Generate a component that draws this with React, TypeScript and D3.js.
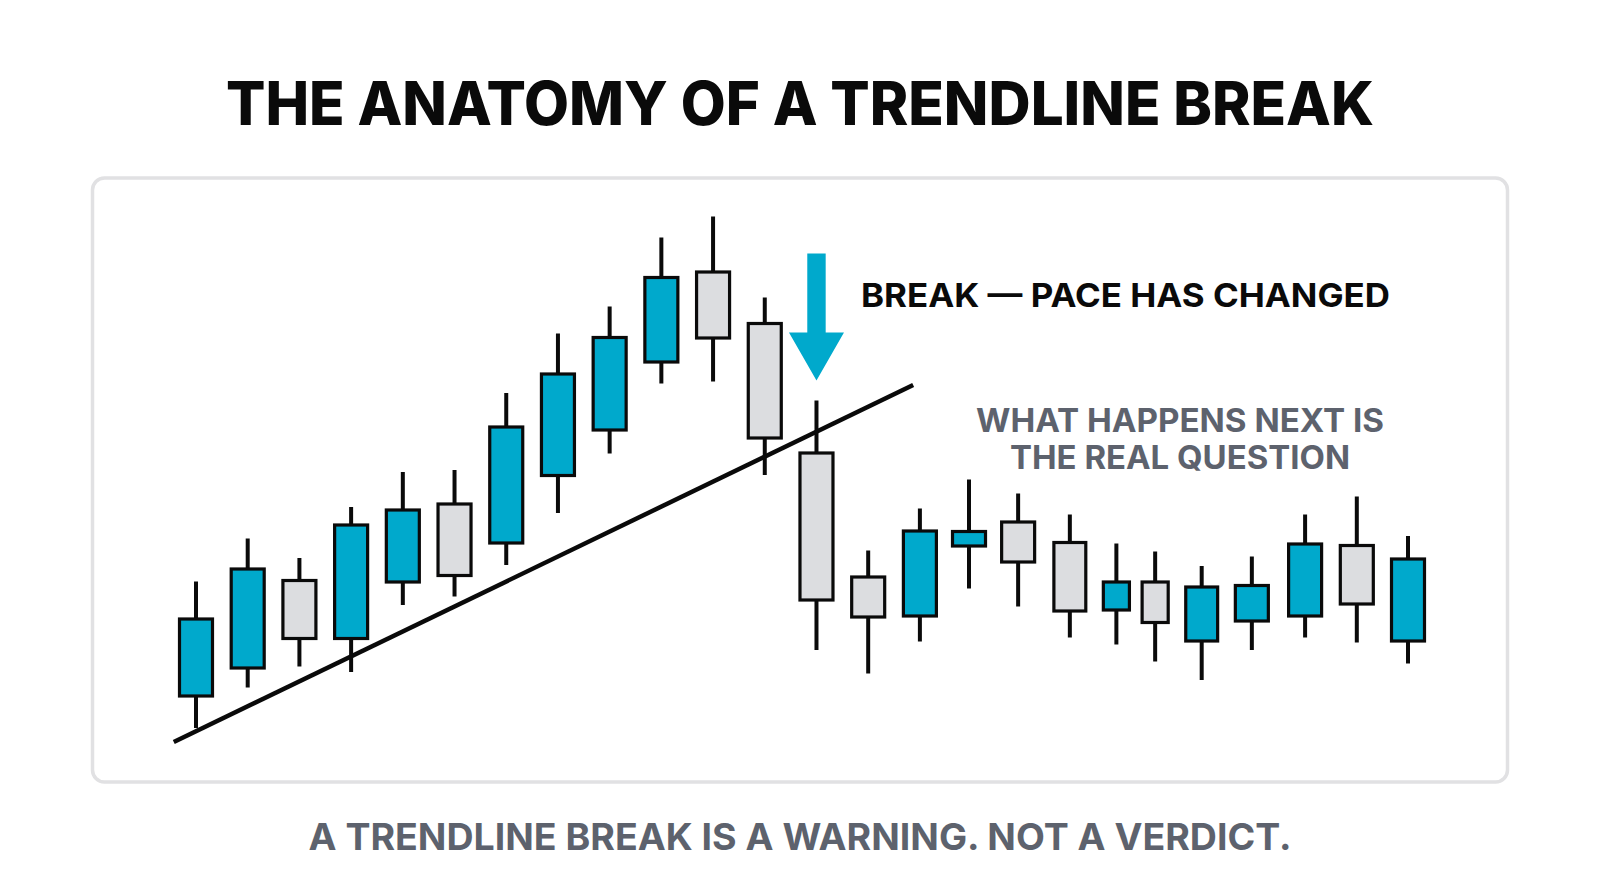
import React, { useEffect, useRef } from 'react'
import * as d3 from 'd3'

// candle data (t = session position, prices in arbitrary units)
const sessions = [0, 1, 2, 3, 4, 5, 6, 7, 8, 9, 10, 11, 12, 13, 14, 14.95, 15.9, 16.9, 17.8, 18.55, 19.45, 20.42, 21.45, 22.45, 23.44]
const opens = [8.5, 14.1, 32.2, 20, 31.3, 47.5, 39.1, 52.6, 61.7, 75.3, 93.9, 83.6, 57.7, 32.9, 24.5, 38.5, 43.9, 39.8, 25.7, 31.9, 19.5, 23.5, 24.5, 39.2, 19.5]
const closes = [24.5, 34.5, 20, 43.3, 46.3, 32.6, 62.9, 73.5, 80.8, 92.8, 80.1, 60.1, 27.7, 24.3, 42.1, 42, 35.3, 25.5, 31.9, 23.2, 30.9, 31.2, 39.5, 26.9, 36.5]
const highs = [31.7, 40.3, 36.4, 46.6, 53.6, 54, 69.4, 81.3, 86.7, 100.5, 104.7, 88.5, 67.9, 37.9, 46.3, 52.1, 49.3, 45.1, 39.3, 37.7, 34.8, 36.7, 45.1, 48.7, 40.8]
const lows = [2.4, 10.5, 14.7, 13.6, 27, 28.7, 35, 45.4, 57.3, 71.3, 71.7, 53, 18, 13.3, 19.7, 30.3, 26.7, 20.5, 19.1, 15.7, 12, 18, 20.5, 19.5, 15.3]

// trendline drawn under the lows of the advance
const trendT = [-0.43, 13.87]
const trendP = [-0.4, 71]

const breakIndex = 12

const title = 'THE ANATOMY OF A TRENDLINE BREAK'
const breakLabel = 'BREAK — PACE HAS CHANGED'
const nextLines = ['WHAT HAPPENS NEXT IS', 'THE REAL QUESTION']
const footer = 'A TRENDLINE BREAK IS A WARNING. NOT A VERDICT.'

export default function App() {
    const ref = useRef<SVGSVGElement | null>(null)

    const width = 1600
    const height = 893
    const blue = '#00a9cc'
    const grey = '#dcdde0'
    const ink = '#0a0a0a'
    const muted = '#5d626d'
    const font = 'Inter, "Open Sans", sans-serif'

    function draw() {
        const svg = d3.select(ref.current)
        svg.selectAll('*').remove()

        svg.append('rect').attr('width', width).attr('height', height).attr('fill', '#fff')

        // title
        svg.append('text')
            .attr('x', 800).attr('y', 124.5)
            .attr('text-anchor', 'middle')
            .attr('font-family', font).attr('font-weight', 800)
            .attr('font-size', 60)
            .attr('textLength', 1148).attr('lengthAdjust', 'spacingAndGlyphs')
            .attr('fill', ink)
            .text(title)

        // panel
        svg.append('rect')
            .attr('x', 92.5).attr('y', 178)
            .attr('width', 1415).attr('height', 604)
            .attr('rx', 12)
            .attr('fill', '#fff')
            .attr('stroke', '#e1e1e3').attr('stroke-width', 3.5)

        const x = d3.scaleLinear().domain([0, 23.44]).range([196, 1408])
        const y = d3.scaleLinear().domain([0, 110]).range([740, 190])

        const candles = sessions.map((t, i) => ({
            t, o: opens[i], c: closes[i], h: highs[i], l: lows[i],
        }))

        // body width shrinks where sessions crowd together
        const bodyW = (i: number) => {
            const gaps: number[] = []
            if (i > 0) gaps.push(x(sessions[i]) - x(sessions[i - 1]))
            if (i < sessions.length - 1) gaps.push(x(sessions[i + 1]) - x(sessions[i]))
            return Math.min(36, 0.75 * (d3.min(gaps) as number))
        }

        const g = svg.append('g')

        // trendline
        g.append('line')
            .attr('x1', x(trendT[0])).attr('y1', y(trendP[0]))
            .attr('x2', x(trendT[1])).attr('y2', y(trendP[1]))
            .attr('stroke', ink).attr('stroke-width', 4.5)

        const cg = g.selectAll('g.candle')
            .data(candles)
            .enter().append('g')
            .attr('class', 'candle')

        cg.append('line')
            .attr('x1', d => x(d.t)).attr('x2', d => x(d.t))
            .attr('y1', d => y(d.h)).attr('y2', d => y(d.l))
            .attr('stroke', ink).attr('stroke-width', 4)

        cg.append('rect')
            .attr('x', (d, i) => x(d.t) - bodyW(i) / 2 + 1.5)
            .attr('y', d => y(Math.max(d.o, d.c)) + 1.5)
            .attr('width', (d, i) => bodyW(i) - 3)
            .attr('height', d => Math.abs(y(d.o) - y(d.c)) - 3)
            .attr('fill', d => d.c > d.o ? blue : grey)
            .attr('stroke', ink).attr('stroke-width', 3.2)

        // break arrow above the breaking candle
        const ax = x(sessions[breakIndex])
        const tip = y(highs[breakIndex]) - 20
        const arrow = d3.path()
        arrow.moveTo(ax - 9.2, tip - 127)
        arrow.lineTo(ax + 9.2, tip - 127)
        arrow.lineTo(ax + 9.2, tip - 48)
        arrow.lineTo(ax + 27.5, tip - 48)
        arrow.lineTo(ax, tip)
        arrow.lineTo(ax - 27.5, tip - 48)
        arrow.lineTo(ax - 9.2, tip - 48)
        arrow.closePath()
        g.append('path').attr('d', arrow.toString()).attr('fill', blue)

        svg.append('text')
            .attr('x', 861).attr('y', 307)
            .attr('font-family', font).attr('font-weight', 700)
            .attr('font-size', 33)
            .attr('textLength', 529).attr('lengthAdjust', 'spacingAndGlyphs')
            .attr('fill', ink)
            .text(breakLabel)

        const nextWidths = [408, 340]
        nextLines.forEach((line, i) => {
            svg.append('text')
                .attr('x', 1180).attr('y', 432 + i * 37)
                .attr('text-anchor', 'middle')
                .attr('font-family', font).attr('font-weight', 700)
                .attr('font-size', 32)
                .attr('textLength', nextWidths[i]).attr('lengthAdjust', 'spacingAndGlyphs')
                .attr('fill', muted)
                .text(line)
        })

        svg.append('text')
            .attr('x', 800).attr('y', 850)
            .attr('text-anchor', 'middle')
            .attr('font-family', font).attr('font-weight', 700)
            .attr('font-size', 37)
            .attr('textLength', 983).attr('lengthAdjust', 'spacingAndGlyphs')
            .attr('fill', muted)
            .text(footer)
    }

    useEffect(() => {
        draw()
    }, [])

    return (
        <div>
            <svg ref={ref} width={width} height={height}
                style={{ position: 'absolute', left: 0, top: 0, display: 'block' }} />
        </div>
    )
}
